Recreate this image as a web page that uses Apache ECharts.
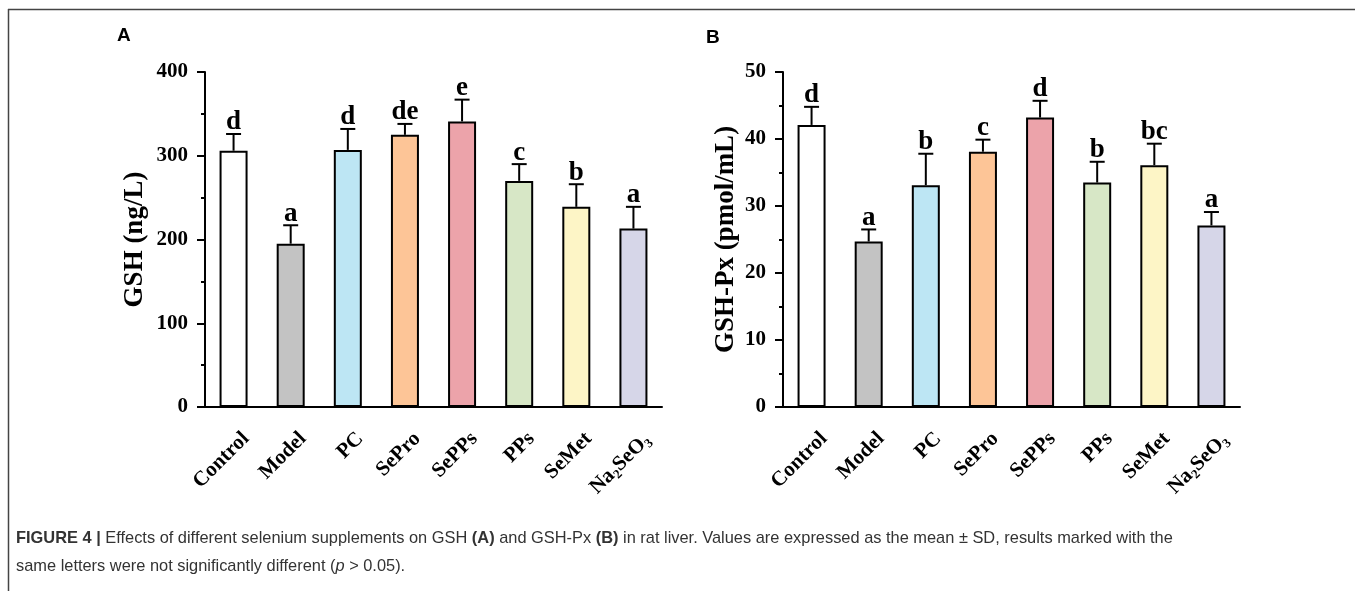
<!DOCTYPE html>
<html lang="en" style="height: 100%">

<head>
  <meta charset="utf-8">
</head>

<body style="height: 100%; margin: 0; background: #fff">
  <div id="container" style="width: 1355px; height: 591px"></div>

  <script type="text/javascript" src="https://cdn.jsdelivr.net/npm/echarts@6/dist/echarts.min.js"></script>

  <script type="text/javascript">
    var dom = document.getElementById('container');
    var myChart = echarts.init(dom, null, { renderer: 'canvas' });

    // groups and their fill colours
    var groups = ['Control', 'Model', 'PC', 'SePro', 'SePPs', 'PPs', 'SeMet', 'Na2SeO3'];
    var barColors = ['#ffffff', '#c3c3c3', '#bde6f4', '#fdc597', '#eca3aa', '#d7e7c6', '#fdf5c6', '#d6d6e8'];

    // panel A: GSH (ng/L)
    var gshMean = [306, 195, 307, 325, 341, 270, 239, 213];
    var gshSd = [20, 22, 25, 13, 26, 20, 27, 26];
    var gshLetters = ['d', 'a', 'd', 'de', 'e', 'c', 'b', 'a'];

    // panel B: GSH-Px (pmol/mL)
    var gpxMean = [42.1, 24.7, 33.1, 38.1, 43.2, 33.5, 36.1, 27.1];
    var gpxSd = [2.7, 1.8, 4.7, 1.8, 2.5, 3.1, 3.2, 2.0];
    var gpxLetters = ['d', 'a', 'b', 'c', 'd', 'b', 'bc', 'a'];

    var serif = '"Liberation Serif", "Times New Roman", serif';
    var sans = '"Liberation Sans", Arial, sans-serif';

    function xAxisFor(gridIndex) {
      return {
        type: 'category',
        gridIndex: gridIndex,
        data: groups,
        axisLine: { lineStyle: { color: '#000', width: 2 } },
        axisTick: { alignWithLabel: true, length: 8, lineStyle: { color: '#000', width: 2 } },
        axisLabel: {
          rotate: 45,
          margin: 12,
          verticalAlign: 'top',
          padding: [10, 3, 0, 0],
          color: '#000',
          fontFamily: serif,
          fontWeight: 'bold',
          fontSize: 21,
          formatter: function (v) {
            return v === 'Na2SeO3' ? '{n|Na}{s|2}{n|SeO}{s|3}' : v;
          },
          rich: {
            n: { fontFamily: serif, fontWeight: 'bold', fontSize: 21, lineHeight: 25, color: '#000' },
            s: { fontFamily: serif, fontWeight: 'bold', fontSize: 13, lineHeight: 13, verticalAlign: 'bottom', color: '#000' }
          }
        }
      };
    }

    function yAxisFor(gridIndex, max, step, name, gap) {
      return {
        type: 'value',
        gridIndex: gridIndex,
        min: 0,
        max: max,
        interval: step,
        name: name,
        nameLocation: 'middle',
        nameGap: gap,
        nameTextStyle: { fontFamily: serif, fontWeight: 'bold', fontSize: 27, color: '#000' },
        axisLine: { show: true, lineStyle: { color: '#000', width: 2 } },
        axisTick: { show: true, length: 8, lineStyle: { color: '#000', width: 2 } },
        minorTick: { show: true, splitNumber: 2, length: 4, lineStyle: { color: '#000', width: 2 } },
        splitLine: { show: false },
        axisLabel: { margin: 17, color: '#000', fontFamily: serif, fontWeight: 'bold', fontSize: 21 }
      };
    }

    function barSeries(idx, means) {
      return {
        type: 'bar',
        xAxisIndex: idx,
        yAxisIndex: idx,
        barWidth: 28,
        data: means.map(function (v, i) {
          return { value: v, itemStyle: { color: barColors[i] } };
        }),
        itemStyle: { borderColor: '#000', borderWidth: 2 }
      };
    }

    function errorSeries(idx, means, sds, letters) {
      return {
        type: 'custom',
        xAxisIndex: idx,
        yAxisIndex: idx,
        z: 5,
        data: means.map(function (v, i) { return [i, v, sds[i]]; }),
        renderItem: function (params, api) {
          var i = api.value(0);
          var m = api.value(1);
          var s = api.value(2);
          var base = api.coord([i, m]);
          var top = api.coord([i, m + s]);
          var lineStyle = { stroke: '#000', lineWidth: 2 };
          return {
            type: 'group',
            children: [
              { type: 'line', shape: { x1: base[0], y1: base[1], x2: top[0], y2: top[1] }, style: lineStyle },
              { type: 'line', shape: { x1: top[0] - 7.5, y1: top[1], x2: top[0] + 7.5, y2: top[1] }, style: lineStyle },
              {
                type: 'text',
                style: {
                  x: top[0], y: top[1] + 2,
                  text: letters[params.dataIndex],
                  align: 'center', verticalAlign: 'bottom',
                  fontFamily: serif, fontWeight: 'bold', fontSize: 27, fill: '#000'
                }
              }
            ]
          };
        }
      };
    }

    var option = {
      animation: false,
      backgroundColor: '#fff',
      grid: [
        { left: 205, top: 72, width: 457, height: 335 },
        { left: 783, top: 72, width: 457, height: 335 }
      ],
      xAxis: [xAxisFor(0), xAxisFor(1)],
      yAxis: [
        yAxisFor(0, 400, 100, 'GSH (ng/L)', 56),
        yAxisFor(1, 50, 10, 'GSH-Px (pmol/mL)', 43)
      ],
      series: [
        barSeries(0, gshMean),
        errorSeries(0, gshMean, gshSd, gshLetters),
        barSeries(1, gpxMean),
        errorSeries(1, gpxMean, gpxSd, gpxLetters)
      ],
      graphic: [
        { type: 'line', shape: { x1: 8, y1: 9.5, x2: 1355, y2: 9.5 }, style: { stroke: '#444', lineWidth: 1.5 } },
        { type: 'line', shape: { x1: 8.5, y1: 9, x2: 8.5, y2: 591 }, style: { stroke: '#444', lineWidth: 1.5 } },
        { type: 'text', left: 117, top: 26, style: { text: 'A', font: 'bold 19px ' + sans, fill: '#000' } },
        { type: 'text', left: 706, top: 28, style: { text: 'B', font: 'bold 19px ' + sans, fill: '#000' } },
        {
          type: 'text',
          left: 16,
          top: 524,
          style: {
            text: '{b|FIGURE 4 |} Effects of different selenium supplements on GSH {b|(A)} and GSH-Px {b|(B)} in rat liver. Values are expressed as the mean \u00b1 SD, results marked with the\nsame letters were not significantly different ({i|p} > 0.05).',
            fontFamily: sans,
            fontSize: 16.4,
            lineHeight: 28,
            fill: '#333',
            rich: {
              b: { fontFamily: sans, fontSize: 16.4, fontWeight: 'bold', lineHeight: 28, fill: '#333' },
              i: { fontFamily: sans, fontSize: 16.4, fontStyle: 'italic', lineHeight: 28, fill: '#333' }
            }
          }
        }
      ]
    };

    myChart.setOption(option);
    window.addEventListener('resize', myChart.resize);
  </script>
</body>

</html>
